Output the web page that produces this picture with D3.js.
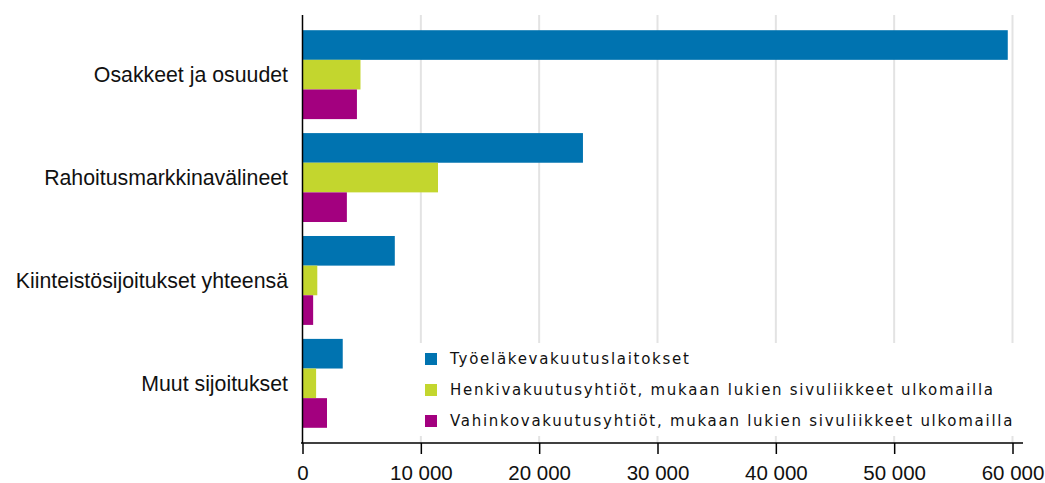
<!DOCTYPE html>
<html><head><meta charset="utf-8">
<script src="https://cdn.jsdelivr.net/npm/d3@7"></script>
<style>body{margin:0;background:#fff}svg{display:block}</style>
</head><body>
<script>
const categories = ["Osakkeet ja osuudet","Rahoitusmarkkinavälineet","Kiinteistösijoitukset yhteensä","Muut sijoitukset"];
const seriesNames = ["Työeläkevakuutuslaitokset","Henkivakuutusyhtiöt, mukaan lukien sivuliikkeet ulkomailla","Vahinkovakuutusyhtiöt, mukaan lukien sivuliikkeet ulkomailla"];
const tyoelake = [59600, 23700, 7800, 3400];
const henki = [4900, 11450, 1250, 1150];
const vahinko = [4600, 3750, 900, 2070];
const xTicks = [0,10000,20000,30000,40000,50000,60000];
const colors = ["#0073B0","#C3D62E","#A3007F"];

const W=1045,H=483;
const svg=d3.select("body").append("svg").attr("width",W).attr("height",H);
const values=[tyoelake,henki,vahinko];

const x=d3.scaleLinear().domain([0,60000]).range([302.5,1012.5]);
const y=d3.scaleBand().domain(categories).range([23,435]).paddingInner(14/103).paddingOuter(0.07);
const ySub=d3.scaleBand().domain(d3.range(3)).range([0,y.bandwidth()]);

// gridlines
svg.append("g").selectAll("line").data(xTicks.slice(1)).join("line")
  .attr("x1",d=>x(d)).attr("x2",d=>x(d)).attr("y1",15).attr("y2",443)
  .attr("stroke","#e3e3e3").attr("stroke-width",2);

// bars
const g=svg.append("g");
categories.forEach((c,i)=>{
  values.forEach((s,j)=>{
    g.append("rect").attr("x",x(0)).attr("y",y(c)+ySub(j))
      .attr("width",x(s[i])-x(0)).attr("height",ySub.bandwidth())
      .attr("fill",colors[j]);
  });
});

// legend
const lg=svg.append("g");
lg.append("rect").attr("x",412).attr("y",343).attr("width",608).attr("height",93).attr("fill","#fff");
seriesNames.forEach((n,j)=>{
  const cy=359+j*31;
  lg.append("rect").attr("x",425).attr("y",cy-6).attr("width",12).attr("height",12).attr("fill",colors[j]);
  lg.append("text").attr("x",450).attr("y",cy).attr("dy","0.36em")
    .attr("font-family","DejaVu Sans").attr("font-size",15).attr("letter-spacing","1.72px")
    .attr("fill","#111").text(n);
});

// axes
const xAxis=d3.axisBottom(x).tickValues(xTicks).tickSize(11).tickPadding(11)
  .tickFormat(d=>d3.format(",")(d).replace(/,/g," "));
const ax=svg.append("g").attr("transform","translate(0,443)").call(xAxis);
ax.select(".domain").attr("d","M301,0H1023").attr("stroke","#000").attr("stroke-width",1.5);
ax.selectAll(".tick line").attr("stroke","#000").attr("stroke-width",1.5);
ax.selectAll("text").attr("font-family","Liberation Sans, Arial").attr("font-size",20.5).attr("fill","#111");

svg.append("line").attr("x1",302.5).attr("x2",302.5).attr("y1",15).attr("y2",443)
  .attr("stroke","#000").attr("stroke-width",1.5);

svg.append("g").selectAll("text").data(categories).join("text")
  .attr("x",288).attr("y",d=>y(d)+y.bandwidth()/2).attr("dy","0.35em")
  .attr("text-anchor","end").attr("font-family","Liberation Sans, Arial")
  .attr("font-size",21.3).attr("fill","#111").text(d=>d);
</script>
</body></html>
